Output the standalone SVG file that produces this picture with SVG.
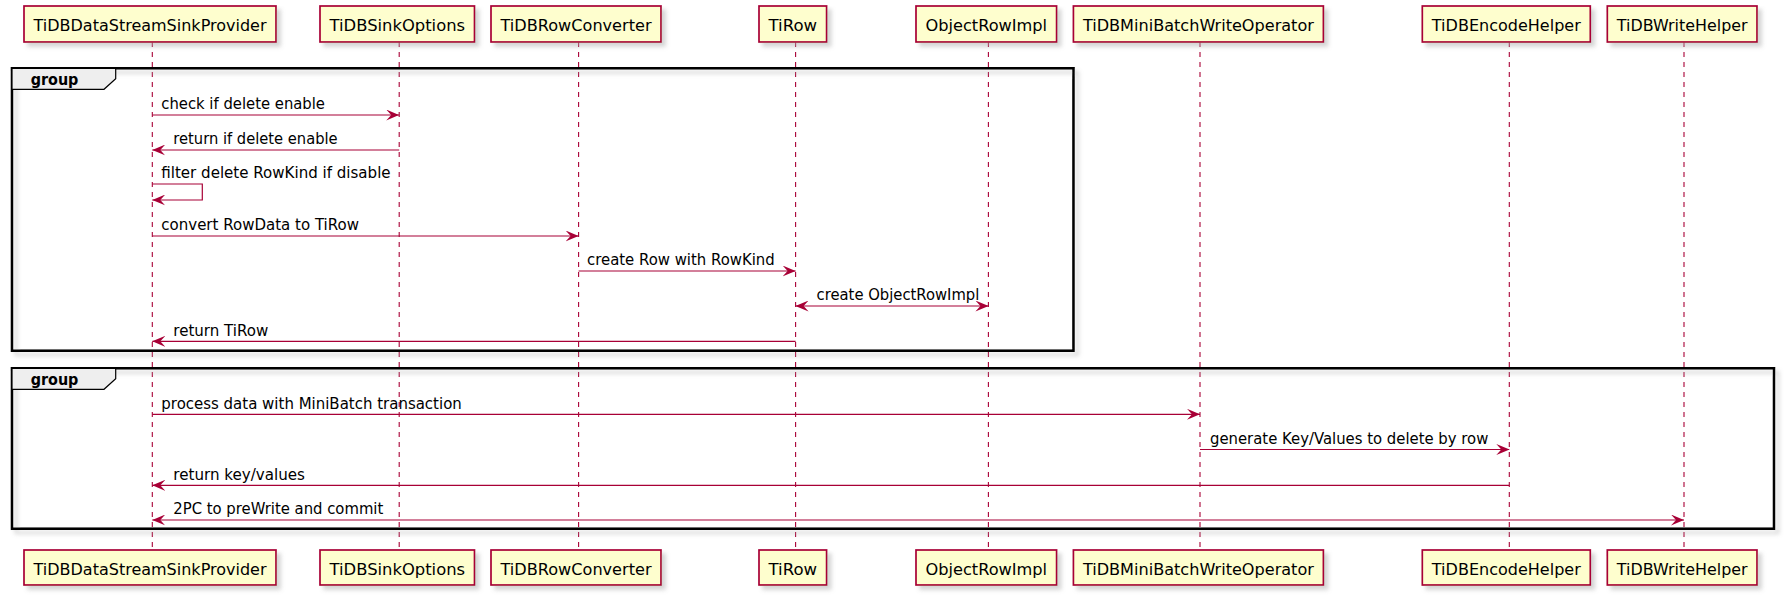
<svg xmlns="http://www.w3.org/2000/svg" width="1789" height="601" viewBox="0 0 1789 601">
<defs>
<filter id="sh" x="-10%" y="-10%" width="130%" height="160%">
<feGaussianBlur in="SourceAlpha" stdDeviation="2"/>
<feOffset dx="4" dy="4" result="b"/>
<feColorMatrix in="b" type="matrix" values="0 0 0 0 0.4  0 0 0 0 0.4  0 0 0 0 0.4  0 0 0 0.5 0" result="s"/>
<feMerge><feMergeNode in="s"/><feMergeNode in="SourceGraphic"/></feMerge>
</filter>
<marker id="ah" viewBox="0 0 13 11" refX="13" refY="5.5" markerWidth="13" markerHeight="11" markerUnits="userSpaceOnUse" orient="auto-start-reverse">
<path d="M0,0 L13,5.5 L0,11 L5,5.5 Z" fill="#A80036"/>
</marker>
</defs>
<style>
.box{fill:#FEFECE;stroke:#A80036;stroke-width:1.7;filter:url(#sh)}
.pt{font-family:"DejaVu Sans",sans-serif;font-size:16.5px;fill:#000;text-anchor:middle}
.life{stroke:#A80036;stroke-width:1.1;stroke-dasharray:5,5;fill:none}
.frame{fill:none;stroke:#000;stroke-width:2.6;filter:url(#sh)}
.tab{fill:#EEEEEE;stroke:#000;stroke-width:1.2}
.gt{font-family:"DejaVu Sans",sans-serif;font-size:15px;font-weight:bold;fill:#000}
.msg{stroke:#A80036;stroke-width:1.2;fill:none}
.mt{font-family:"DejaVu Sans",sans-serif;font-size:15px;fill:#000}
</style>
<rect width="1789" height="601" fill="#FFFFFF"/>

<g id="lifelines">
<line class="life" x1="152.3" y1="42" x2="152.3" y2="550"/>
<line class="life" x1="399.2" y1="42" x2="399.2" y2="550"/>
<line class="life" x1="578.6" y1="42" x2="578.6" y2="550"/>
<line class="life" x1="795.6" y1="42" x2="795.6" y2="550"/>
<line class="life" x1="988.4" y1="42" x2="988.4" y2="550"/>
<line class="life" x1="1200" y1="42" x2="1200" y2="550"/>
<line class="life" x1="1509.3" y1="42" x2="1509.3" y2="550"/>
<line class="life" x1="1684" y1="42" x2="1684" y2="550"/>
</g>

<g id="group1">
<rect class="frame" x="12" y="68.3" width="1061.5" height="282.4"/>
<path class="tab" d="M12,68.3 L115.7,68.3 L115.7,78.7 L104,89.3 L12,89.3 Z"/>
<text class="gt" x="30.7" y="85" textLength="47.7" lengthAdjust="spacingAndGlyphs">group</text>
</g>
<g id="group2">
<rect class="frame" x="12" y="368.3" width="1762" height="160.4"/>
<path class="tab" d="M12,368.3 L115.7,368.3 L115.7,378.7 L104,389.3 L12,389.3 Z"/>
<text class="gt" x="30.7" y="385" textLength="47.7" lengthAdjust="spacingAndGlyphs">group</text>
</g>

<g id="p1">
<rect class="box" x="24" y="6" width="252" height="36"/>
<text class="pt" x="150" y="30.5" textLength="233" lengthAdjust="spacingAndGlyphs">TiDBDataStreamSinkProvider</text>
<rect class="box" x="24" y="550" width="252" height="35"/>
<text class="pt" x="150" y="574.5" textLength="233" lengthAdjust="spacingAndGlyphs">TiDBDataStreamSinkProvider</text>
</g>
<g id="p2">
<rect class="box" x="320" y="6" width="154.5" height="36"/>
<text class="pt" x="397.3" y="30.5" textLength="135.5" lengthAdjust="spacingAndGlyphs">TiDBSinkOptions</text>
<rect class="box" x="320" y="550" width="154.5" height="35"/>
<text class="pt" x="397.3" y="574.5" textLength="135.5" lengthAdjust="spacingAndGlyphs">TiDBSinkOptions</text>
</g>
<g id="p3">
<rect class="box" x="491" y="6" width="170" height="36"/>
<text class="pt" x="576" y="30.5" textLength="151" lengthAdjust="spacingAndGlyphs">TiDBRowConverter</text>
<rect class="box" x="491" y="550" width="170" height="35"/>
<text class="pt" x="576" y="574.5" textLength="151" lengthAdjust="spacingAndGlyphs">TiDBRowConverter</text>
</g>
<g id="p4">
<rect class="box" x="759" y="6" width="67.6" height="36"/>
<text class="pt" x="792.8" y="30.5" textLength="48.6" lengthAdjust="spacingAndGlyphs">TiRow</text>
<rect class="box" x="759" y="550" width="67.6" height="35"/>
<text class="pt" x="792.8" y="574.5" textLength="48.6" lengthAdjust="spacingAndGlyphs">TiRow</text>
</g>
<g id="p5">
<rect class="box" x="916" y="6" width="140.6" height="36"/>
<text class="pt" x="986.3" y="30.5" textLength="121.6" lengthAdjust="spacingAndGlyphs">ObjectRowImpl</text>
<rect class="box" x="916" y="550" width="140.6" height="35"/>
<text class="pt" x="986.3" y="574.5" textLength="121.6" lengthAdjust="spacingAndGlyphs">ObjectRowImpl</text>
</g>
<g id="p6">
<rect class="box" x="1073.4" y="6" width="250" height="36"/>
<text class="pt" x="1198.4" y="30.5" textLength="231" lengthAdjust="spacingAndGlyphs">TiDBMiniBatchWriteOperator</text>
<rect class="box" x="1073.4" y="550" width="250" height="35"/>
<text class="pt" x="1198.4" y="574.5" textLength="231" lengthAdjust="spacingAndGlyphs">TiDBMiniBatchWriteOperator</text>
</g>
<g id="p7">
<rect class="box" x="1422.3" y="6" width="168" height="36"/>
<text class="pt" x="1506.3" y="30.5" textLength="149" lengthAdjust="spacingAndGlyphs">TiDBEncodeHelper</text>
<rect class="box" x="1422.3" y="550" width="168" height="35"/>
<text class="pt" x="1506.3" y="574.5" textLength="149" lengthAdjust="spacingAndGlyphs">TiDBEncodeHelper</text>
</g>
<g id="p8">
<rect class="box" x="1607.3" y="6" width="149.7" height="36"/>
<text class="pt" x="1682.2" y="30.5" textLength="130.7" lengthAdjust="spacingAndGlyphs">TiDBWriteHelper</text>
<rect class="box" x="1607.3" y="550" width="149.7" height="35"/>
<text class="pt" x="1682.2" y="574.5" textLength="130.7" lengthAdjust="spacingAndGlyphs">TiDBWriteHelper</text>
</g>

<g id="connectors">
<line class="msg" x1="152.3" y1="115" x2="399.2" y2="115" marker-end="url(#ah)"/>
<text class="mt" x="161.3" y="109.3" textLength="163.7" lengthAdjust="spacingAndGlyphs">check if delete enable</text>

<line class="msg" x1="399.2" y1="150" x2="152.3" y2="150" marker-end="url(#ah)"/>
<text class="mt" x="173.3" y="144.3" textLength="164.3" lengthAdjust="spacingAndGlyphs">return if delete enable</text>

<polyline class="msg" points="152.3,184 202.3,184 202.3,200 152.3,200" marker-end="url(#ah)"/>
<text class="mt" x="161.3" y="178.3" textLength="229.3" lengthAdjust="spacingAndGlyphs">filter delete RowKind if disable</text>

<line class="msg" x1="152.3" y1="236" x2="578.6" y2="236" marker-end="url(#ah)"/>
<text class="mt" x="161.3" y="230.3" textLength="197.7" lengthAdjust="spacingAndGlyphs">convert RowData to TiRow</text>

<line class="msg" x1="578.6" y1="271" x2="795.6" y2="271" marker-end="url(#ah)"/>
<text class="mt" x="587" y="265.3" textLength="187.7" lengthAdjust="spacingAndGlyphs">create Row with RowKind</text>

<line class="msg" x1="795.6" y1="306" x2="988.4" y2="306" marker-start="url(#ah)" marker-end="url(#ah)"/>
<text class="mt" x="816.6" y="300.3" textLength="162.7" lengthAdjust="spacingAndGlyphs">create ObjectRowImpl</text>

<line class="msg" x1="795.6" y1="341.3" x2="152.3" y2="341.3" marker-end="url(#ah)"/>
<text class="mt" x="173.3" y="335.6" textLength="95" lengthAdjust="spacingAndGlyphs">return TiRow</text>

<line class="msg" x1="152.3" y1="414.3" x2="1200" y2="414.3" marker-end="url(#ah)"/>
<text class="mt" x="161.3" y="408.6" textLength="300.5" lengthAdjust="spacingAndGlyphs">process data with MiniBatch transaction</text>

<line class="msg" x1="1200" y1="449.5" x2="1509.3" y2="449.5" marker-end="url(#ah)"/>
<text class="mt" x="1210" y="443.8" textLength="278.3" lengthAdjust="spacingAndGlyphs">generate Key/Values to delete by row</text>

<line class="msg" x1="1509.3" y1="485.3" x2="152.3" y2="485.3" marker-end="url(#ah)"/>
<text class="mt" x="173.3" y="479.6" textLength="131.6" lengthAdjust="spacingAndGlyphs">return key/values</text>

<line class="msg" x1="152.3" y1="520" x2="1684" y2="520" marker-start="url(#ah)" marker-end="url(#ah)"/>
<text class="mt" x="173.3" y="514.3" textLength="210" lengthAdjust="spacingAndGlyphs">2PC to preWrite and commit</text>
</g>
</svg>
